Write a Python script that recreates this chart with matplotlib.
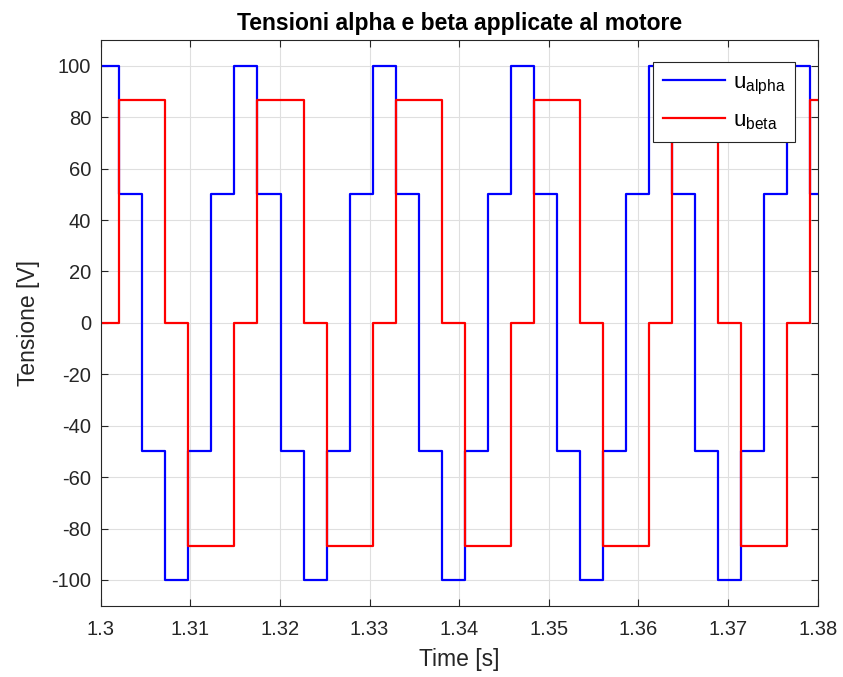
import numpy as np
import matplotlib.pyplot as plt

plt.rcParams['font.family'] = ['Liberation Sans', 'DejaVu Sans']
plt.rcParams['mathtext.fontset'] = 'custom'
plt.rcParams['mathtext.rm'] = 'Liberation Sans'
plt.rcParams['axes.unicode_minus'] = False

# switching instants [s]
t_switch = [1.30208, 1.30465, 1.30722, 1.30978, 1.31235, 1.31492,
            1.31749, 1.32006, 1.32263, 1.32520, 1.32776, 1.33033,
            1.33290, 1.33547, 1.33804, 1.34060, 1.34317, 1.34574,
            1.34831, 1.35088, 1.35345, 1.35601, 1.35858, 1.36115,
            1.36372, 1.36629, 1.36886, 1.37142, 1.37399, 1.37656,
            1.37913]

# levels held before / between the switching instants [V]
u_alpha = [100, 50, -50, -100, -50, 50,
           100, 50, -50, -100, -50, 50,
           100, 50, -50, -100, -50, 50,
           100, 50, -50, -100, -50, 50,
           100, 50, -50, -100, -50, 50,
           100, 50]
u_beta = [0, 86.6, 86.6, 0, -86.6, -86.6,
          0, 86.6, 86.6, 0, -86.6, -86.6,
          0, 86.6, 86.6, 0, -86.6, -86.6,
          0, 86.6, 86.6, 0, -86.6, -86.6,
          0, 86.6, 86.6, 0, -86.6, -86.6,
          0, 86.6]

t_start, t_end = 1.3, 1.38
y_ticks = [-100, -80, -60, -40, -20, 0, 20, 40, 60, 80, 100]
x_ticks = [1.3, 1.31, 1.32, 1.33, 1.34, 1.35, 1.36, 1.37, 1.38]
x_labels = ['1.3', '1.31', '1.32', '1.33', '1.34', '1.35', '1.36', '1.37', '1.38']

t = np.array([t_start] + t_switch + [t_end])

fig = plt.figure(figsize=(8.43, 6.77), dpi=100)
ax = fig.add_axes([0.1195, 0.1053, 0.8505, 0.8356])

ax.step(t, u_alpha + [u_alpha[-1]], where='post', color=(0, 0, 1), lw=1.6,
        label=r'u$_{\mathregular{alpha}}$')
ax.step(t, u_beta + [u_beta[-1]], where='post', color=(1, 0, 0), lw=1.6,
        label=r'u$_{\mathregular{beta}}$')

ax.set_xlim(t_start, t_end)
ax.set_ylim(-110, 110)
ax.set_xticks(x_ticks)
ax.set_xticklabels(x_labels)
ax.set_yticks(y_ticks)

ax.grid(True, color='#dfdfdf', lw=0.8)
ax.set_axisbelow(True)
for s in ax.spines.values():
    s.set_color('#262626')
    s.set_linewidth(0.8)
ax.tick_params(direction='in', length=5, width=0.8, colors='#262626',
               labelsize=14.5, top=True, right=True, pad=7)
ax.tick_params(axis='x', pad=10)

ax.set_xlabel('Time [s]', fontsize=16.5, color='#262626', labelpad=7)
ax.set_ylabel('Tensione [V]', fontsize=16.5, color='#262626', labelpad=8)
ax.set_title('Tensioni alpha e beta applicate al motore', fontsize=16.5,
             fontweight='bold', pad=7)

leg = ax.legend(loc='upper right', fontsize=16, handlelength=2.8,
                handletextpad=0.35, fancybox=False, framealpha=1,
                edgecolor='#262626', borderpad=0.45, labelspacing=0.6,
                borderaxespad=1.0)
leg.get_frame().set_linewidth(0.8)

fig.savefig('out.png', dpi=100)
